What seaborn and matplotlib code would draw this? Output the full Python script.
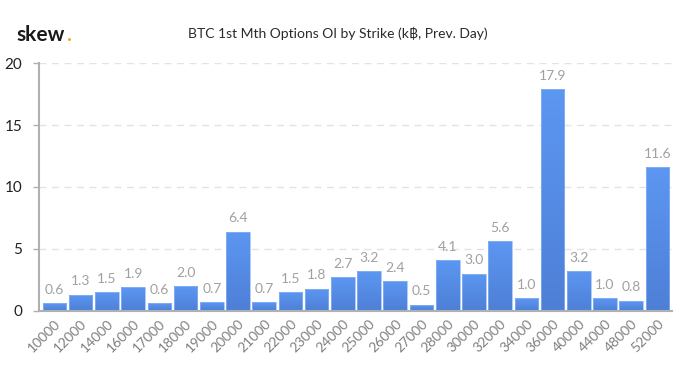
import numpy as np
import pandas as pd
import matplotlib
matplotlib.use("Agg")
import matplotlib.pyplot as plt
import seaborn as sns

# Données
strikes = ["10000", "12000", "14000", "16000", "17000", "18000", "19000", "20000",
           "21000", "22000", "23000", "24000", "25000", "26000", "27000", "28000",
           "30000", "32000", "34000", "36000", "40000", "44000", "48000", "52000"]
oi = [0.6, 1.3, 1.5, 1.9, 0.6, 2.0, 0.7, 6.4,
      0.7, 1.5, 1.8, 2.7, 3.2, 2.4, 0.5, 4.1,
      3.0, 5.6, 1.0, 17.9, 3.2, 1.0, 0.8, 11.6]
yticks = [0, 5, 10, 15, 20]

df = pd.DataFrame({"strike": strikes, "oi": oi})

sns.set_theme(style="white")
plt.rcParams['font.family'] = ['Lato', 'DejaVu Sans']

fig = plt.figure(figsize=(6.8, 3.8), dpi=100)
ax = fig.add_axes([0.057, 0.182, 0.931, 0.652])

sns.barplot(data=df, x="strike", y="oi", color="#5389e6", width=0.9,
            saturation=1, ax=ax, zorder=3)

# dégradé vertical dans chaque barre
grad = np.linspace(0, 1, 256).reshape(-1, 1)
cmap = matplotlib.colors.LinearSegmentedColormap.from_list("g", ["#4e7fd6", "#5c97f2"])
for p in ax.patches:
    x0, y0 = p.get_x(), p.get_y()
    w, h = p.get_width(), p.get_height()
    p.set_facecolor("none")
    p.set_edgecolor("#8fb6f5")
    p.set_linewidth(0.5)
    im = ax.imshow(grad, extent=[x0, x0 + w, y0, y0 + h], origin="lower",
                   cmap=cmap, aspect="auto", zorder=2)
    im.set_clip_path(p)

for i, v in enumerate(oi):
    ax.text(i, v + 0.6, f"{v:.1f}", ha="center", va="bottom", fontsize=10, color="#a0a0a0")

ax.set_xlim(-0.6, len(strikes) - 0.45)
ax.set_ylim(0, 20)
ax.set_yticks(yticks)
ax.set_yticklabels([str(t) for t in yticks], fontsize=11, color="#222222")
ax.tick_params(axis="y", length=4, width=1, color="#b0b0b0", pad=8, left=True)
ax.tick_params(axis="x", length=0, pad=5)
plt.setp(ax.get_xticklabels(), rotation=45, ha="right", rotation_mode="anchor",
         fontsize=10, color="#808080")
ax.set_xlabel("")
ax.set_ylabel("")

for y in yticks[1:]:
    ax.axhline(y, color="#e3e3e3", lw=1, ls=(0, (5, 4)), zorder=1)

sns.despine(ax=ax, top=True, right=True)
ax.spines["left"].set_color("#b0b0b0")
ax.spines["left"].set_linewidth(1.5)
ax.spines["bottom"].set_color("#b0b0b0")
ax.spines["bottom"].set_linewidth(1.5)

fig.text(0.497, 0.913, "BTC 1st Mth Options OI by Strike (k\u0e3f, Prev. Day)",
         ha="center", va="center", fontsize=10, color="#2a2a2a")
t = fig.text(0.024, 0.893, "skew", ha="left", va="baseline", fontsize=15,
             fontweight="bold", color="#1a1a1a")
fig.canvas.draw()
bb = t.get_window_extent().transformed(fig.transFigure.inverted())
fig.text(bb.x1 + 0.002, 0.893, ".", ha="left", va="baseline", fontsize=15,
         fontweight="bold", color="#f0a830")

fig.savefig("out.png", dpi=100)
